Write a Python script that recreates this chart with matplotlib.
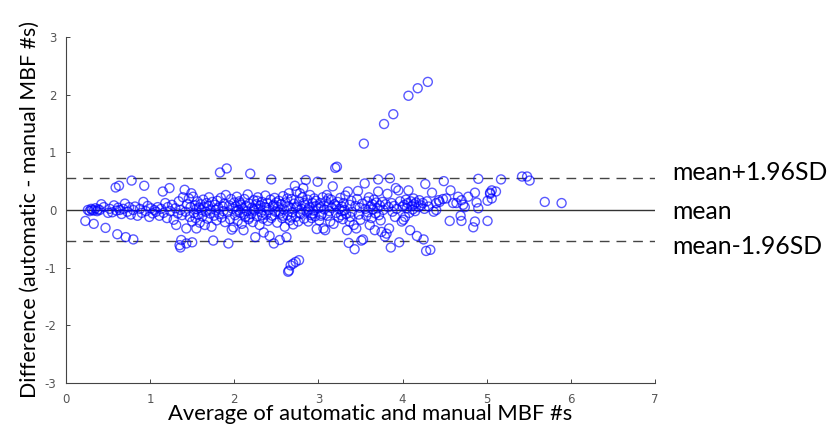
import numpy as np
import matplotlib
matplotlib.use("Agg")
import matplotlib.pyplot as plt

# average of the two methods (x) and their difference (y)
avg_a = [0.26, 0.28, 0.30, 0.31, 0.33, 0.35, 0.37, 0.38, 0.40, 0.23, 0.33, 0.47, 0.42, 0.45, 0.50,
         0.52, 0.55, 0.57, 0.60, 0.62, 0.64, 0.66, 0.68, 0.70, 0.73, 0.75, 0.77, 0.80, 0.82, 0.85,
         0.88, 0.90, 0.92, 0.95, 0.97, 0.99, 0.59, 0.63, 0.78, 0.93, 0.61, 0.71, 0.80]
diff_a = [0.00, -0.02, 0.02, 0.00, -0.01, 0.03, -0.02, 0.01, 0.00, -0.19, -0.24, -0.31, 0.10, 0.05, -0.05,
          0.02, -0.04, 0.08, -0.01, 0.04, 0.00, -0.07, 0.02, 0.11, -0.03, 0.05, -0.08, 0.00, 0.06, -0.10,
          0.02, -0.05, 0.14, -0.02, 0.07, -0.12, 0.39, 0.42, 0.51, 0.42, -0.42, -0.47, -0.51]

avg_b = [1.01, 1.03, 1.05, 1.07, 1.09, 1.11, 1.13, 1.15, 1.16, 1.18, 1.20, 1.21, 1.23, 1.24, 1.26,
         1.28, 1.30, 1.31, 1.33, 1.34, 1.36, 1.38, 1.39, 1.41, 1.42, 1.43, 1.44, 1.46, 1.47, 1.48,
         1.49, 1.50, 1.37, 1.35, 1.36, 1.43, 1.50]
diff_b = [0.03, -0.06, 0.00, -0.03, 0.05, -0.10, 0.02, 0.32, -0.05, 0.12, -0.14, 0.05, 0.38, -0.02, 0.09,
          -0.17, 0.03, -0.26, -0.06, 0.15, 0.00, -0.09, 0.22, 0.35, -0.03, -0.32, 0.10, 0.20, -0.12, 0.05,
          0.29, -0.20, -0.52, -0.61, -0.65, -0.58, -0.56]

avg_c = [1.51, 1.52, 1.53, 1.54, 1.55, 1.56, 1.57, 1.58, 1.59, 1.60, 1.61, 1.62, 1.63, 1.64, 1.65,
         1.66, 1.67, 1.68, 1.69, 1.70, 1.71, 1.72, 1.73, 1.74, 1.75, 1.76, 1.77, 1.78, 1.79, 1.80,
         1.81, 1.82, 1.83, 1.84, 1.85, 1.86, 1.87, 1.88, 1.89, 1.90, 1.91, 1.92, 1.93, 1.94, 1.95,
         1.96, 1.97, 1.98, 1.99, 2.00, 1.55]
diff_c = [0.23, -0.05, 0.08, -0.14, 0.02, 0.15, -0.08, 0.04, -0.22, 0.10, 0.00, -0.11, 0.18, 0.05, -0.26,
          -0.03, 0.12, -0.15, 0.07, 0.22, -0.06, 0.01, -0.29, 0.14, -0.53, -0.10, 0.09, 0.00, -0.18, 0.16,
          0.04, -0.07, 0.65, 0.21, -0.13, 0.06, -0.02, 0.11, -0.21, 0.26, 0.72, -0.04, -0.58, 0.08, -0.16,
          0.19, -0.34, 0.02, -0.30, 0.13, -0.32]

avg_d = [2.01, 2.02, 2.03, 2.04, 2.05, 2.06, 2.07, 2.08, 2.09, 2.10, 2.11, 2.12, 2.13, 2.14, 2.15,
         2.16, 2.17, 2.18, 2.19, 2.20, 2.21, 2.22, 2.23, 2.24, 2.25, 2.26, 2.27, 2.28, 2.29, 2.30,
         2.31, 2.32, 2.33, 2.34, 2.35, 2.36, 2.37, 2.38, 2.39, 2.40, 2.41, 2.42, 2.43, 2.44, 2.45,
         2.46, 2.47, 2.48, 2.49, 2.50, 2.03, 2.07, 2.12, 2.18, 2.23, 2.27, 2.33, 2.38, 2.44, 2.47]
diff_d = [-0.09, 0.06, 0.23, -0.19, 0.00, 0.15, -0.05, 0.09, -0.24, 0.03, -0.35, 0.19, -0.12, 0.07, -0.02,
          0.27, -0.16, 0.11, 0.63, -0.07, 0.04, -0.21, 0.17, -0.01, -0.47, 0.10, -0.11, 0.22, 0.02, -0.26,
          0.08, -0.04, 0.14, -0.15, -0.39, 0.05, 0.25, -0.08, 0.12, -0.19, 0.00, -0.45, 0.18, 0.53, -0.10,
          0.07, -0.58, 0.21, -0.03, 0.13, -0.02, 0.12, -0.07, -0.13, 0.01, 0.16, -0.09, 0.04, -0.14, 0.09]

avg_e = [2.51, 2.52, 2.53, 2.54, 2.55, 2.56, 2.57, 2.58, 2.59, 2.60, 2.61, 2.62, 2.63, 2.64, 2.65,
         2.66, 2.67, 2.68, 2.69, 2.70, 2.71, 2.72, 2.73, 2.74, 2.75, 2.76, 2.77, 2.78, 2.79, 2.80,
         2.81, 2.82, 2.83, 2.84, 2.85, 2.86, 2.87, 2.88, 2.89, 2.90, 2.91, 2.92, 2.93, 2.94, 2.95,
         2.96, 2.97, 2.98, 2.99, 3.00, 2.53, 2.58, 2.63, 2.68, 2.73, 2.78, 2.83, 2.88, 2.93, 2.97,
         2.77, 2.73, 2.70, 2.67, 2.65, 2.64]
diff_e = [-0.22, 0.05, 0.16, -0.52, -0.06, 0.10, -0.14, 0.24, 0.01, -0.29, 0.13, -0.47, -0.09, 0.07, 0.29,
          -0.18, 0.03, 0.19, -0.04, -0.25, 0.11, 0.42, -0.12, 0.32, 0.06, -0.20, 0.15, 0.29, -0.07, 0.02,
          0.22, 0.38, -0.15, 0.09, 0.52, -0.03, 0.18, -0.20, 0.05, 0.26, -0.09, -0.14, 0.12, -0.01, 0.20,
          -0.11, 0.07, -0.33, 0.49, 0.03, -0.03, -0.10, 0.20, -0.13, 0.04, -0.05, 0.12, 0.01, -0.06, 0.16,
          -0.87, -0.90, -0.93, -0.96, -1.05, -1.07]

avg_f = [3.01, 3.02, 3.03, 3.04, 3.05, 3.06, 3.07, 3.08, 3.09, 3.10, 3.11, 3.12, 3.13, 3.14, 3.15,
         3.16, 3.17, 3.18, 3.19, 3.20, 3.21, 3.22, 3.23, 3.24, 3.25, 3.26, 3.27, 3.28, 3.29, 3.30,
         3.31, 3.32, 3.33, 3.34, 3.35, 3.36, 3.37, 3.38, 3.39, 3.40, 3.42, 3.43, 3.44, 3.45, 3.46,
         3.47, 3.48, 3.49, 3.50, 3.03, 3.12, 3.21, 3.28, 3.37]
diff_f = [-0.18, 0.12, 0.05, -0.07, 0.22, -0.32, 0.01, -0.35, 0.15, 0.26, -0.10, 0.08, -0.02, -0.20, 0.18,
          0.04, 0.41, -0.24, 0.10, 0.73, -0.05, 0.75, 0.14, -0.13, 0.02, 0.21, -0.09, 0.06, -0.16, 0.12,
          0.00, 0.25, -0.07, -0.35, 0.32, -0.57, 0.09, -0.12, 0.16, -0.03, -0.26, -0.68, 0.07, -0.32, 0.19,
          0.33, -0.08, 0.04, -0.17, -0.10, 0.20, 0.07, -0.02, -0.20]

avg_g = [3.51, 3.52, 3.53, 3.54, 3.55, 3.56, 3.57, 3.58, 3.59, 3.60, 3.61, 3.62, 3.63, 3.64, 3.65,
         3.66, 3.67, 3.68, 3.69, 3.70, 3.71, 3.71, 3.72, 3.73, 3.74, 3.75, 3.76, 3.77, 3.78, 3.79,
         3.80, 3.81, 3.82, 3.83, 3.84, 3.85, 3.86, 3.87, 3.88, 3.89, 3.90, 3.91, 3.92, 3.93, 3.95,
         3.96, 3.97, 3.99, 4.00]
diff_g = [-0.53, 0.11, -0.51, 1.15, 0.46, 0.02, -0.10, 0.15, -0.04, 0.22, -0.26, 0.06, -0.14, 0.10, 0.01,
          0.18, -0.35, -0.06, 0.13, 0.03, 0.53, 0.32, -0.09, 0.08, -0.18, -0.38, 0.14, 0.00, 1.49, -0.46,
          0.10, -0.41, 0.28, 0.05, -0.32, 0.55, -0.65, 0.12, -0.03, 1.66, 0.07, -0.12, 0.38, 0.02, 0.34,
          -0.56, 0.15, -0.20, 0.06]

avg_h = [4.01, 4.02, 4.03, 4.04, 4.05, 4.06, 4.07, 4.07, 4.08, 4.09, 4.10, 4.11, 4.12, 4.13, 4.14,
         4.15, 4.16, 4.17, 4.18, 4.19, 4.20, 4.22, 4.24, 4.25, 4.26, 4.27, 4.28, 4.29, 4.30, 4.31,
         4.33, 4.35, 4.37, 4.40, 4.40, 4.43, 4.44, 4.48, 4.49]
diff_h = [-0.17, 0.09, -0.12, 0.18, 0.03, 0.12, 0.34, 1.98, -0.05, -0.35, 0.15, 0.07, 0.01, 0.20, 0.10,
          -0.02, 0.13, -0.45, 2.11, 0.05, 0.17, 0.08, 0.12, -0.51, 0.02, 0.45, -0.71, 0.15, 2.22, 0.06,
          -0.69, 0.30, -0.03, 0.00, 0.12, 0.17, 0.14, 0.19, 0.50]

avg_i = [4.52, 4.56, 4.57, 4.60, 4.64, 4.66, 4.69, 4.70, 4.70, 4.72, 4.74, 4.78, 4.84, 4.86, 4.86,
         4.88, 4.90, 4.90, 5.01, 5.01, 5.04, 5.04, 5.06, 5.06, 5.11, 5.17, 5.42, 5.48, 5.51, 5.69, 5.89]
diff_i = [0.20, -0.19, 0.34, 0.12, 0.12, 0.23, -0.10, 0.17, -0.19, 0.09, 0.05, 0.23, -0.30, 0.30, -0.20,
          0.13, 0.03, 0.54, 0.16, -0.19, 0.30, 0.28, 0.34, 0.20, 0.32, 0.53, 0.58, 0.58, 0.51, 0.14, 0.12]

avg = np.array(avg_a + avg_b + avg_c + avg_d + avg_e + avg_f + avg_g + avg_h + avg_i)
diff = np.array(diff_a + diff_b + diff_c + diff_d + diff_e + diff_f + diff_g + diff_h + diff_i)

# bias and limits of agreement
mean_diff = 0.0
upper_loa = 0.555
lower_loa = -0.535
line_labels = ['mean+1.96SD', 'mean', 'mean-1.96SD']

plt.rcParams['axes.unicode_minus'] = False

fig = plt.figure(figsize=(8.31, 4.29), dpi=100)
ax = fig.add_axes([0.0794, 0.107, 0.7088, 0.807])

ax.scatter(avg, diff, s=42, facecolors='none', edgecolors='#0000ff',
           linewidths=1.0, alpha=0.65, zorder=3)

ax.plot([0, 7], [mean_diff, mean_diff], color='#333333', lw=1.0, zorder=2)
ax.plot([0, 7], [upper_loa, upper_loa], color='#444444', lw=1.0, ls=(0, (7, 5)), zorder=2)
ax.plot([0, 7], [lower_loa, lower_loa], color='#444444', lw=1.0, ls=(0, (7, 5)), zorder=2)

# labels on the right, outside the axes
ax.text(7.2, upper_loa + 0.1, line_labels[0], fontsize=17.8, family='Lato', va='center', clip_on=False)
ax.text(7.2, mean_diff - 0.02, line_labels[1], fontsize=17.8, family='Lato', va='center', clip_on=False)
ax.text(7.2, lower_loa - 0.09, line_labels[2], fontsize=17.8, family='Lato', va='center', clip_on=False)

ax.set_xlim(0, 7)
ax.set_ylim(-3, 3)
ax.set_xticks(range(0, 8))
ax.set_yticks(range(-3, 4))
ax.spines['top'].set_visible(False)
ax.spines['right'].set_visible(False)
for s in ['left', 'bottom']:
    ax.spines[s].set_color('#444444')
    ax.spines[s].set_linewidth(0.8)
ax.tick_params(direction='in', length=3, width=0.7, colors='#444444',
               labelsize=8.5, labelcolor='#555555', pad=7)

ax.set_xlabel('Average of automatic and manual MBF #s', fontsize=15.8, family='Lato', labelpad=-1)
ax.xaxis.label.set_x(0.517)
ax.set_ylabel('Difference (automatic - manual MBF #s)', fontsize=15.4, family='Lato', labelpad=3)

fig.savefig('out.png', dpi=100)
